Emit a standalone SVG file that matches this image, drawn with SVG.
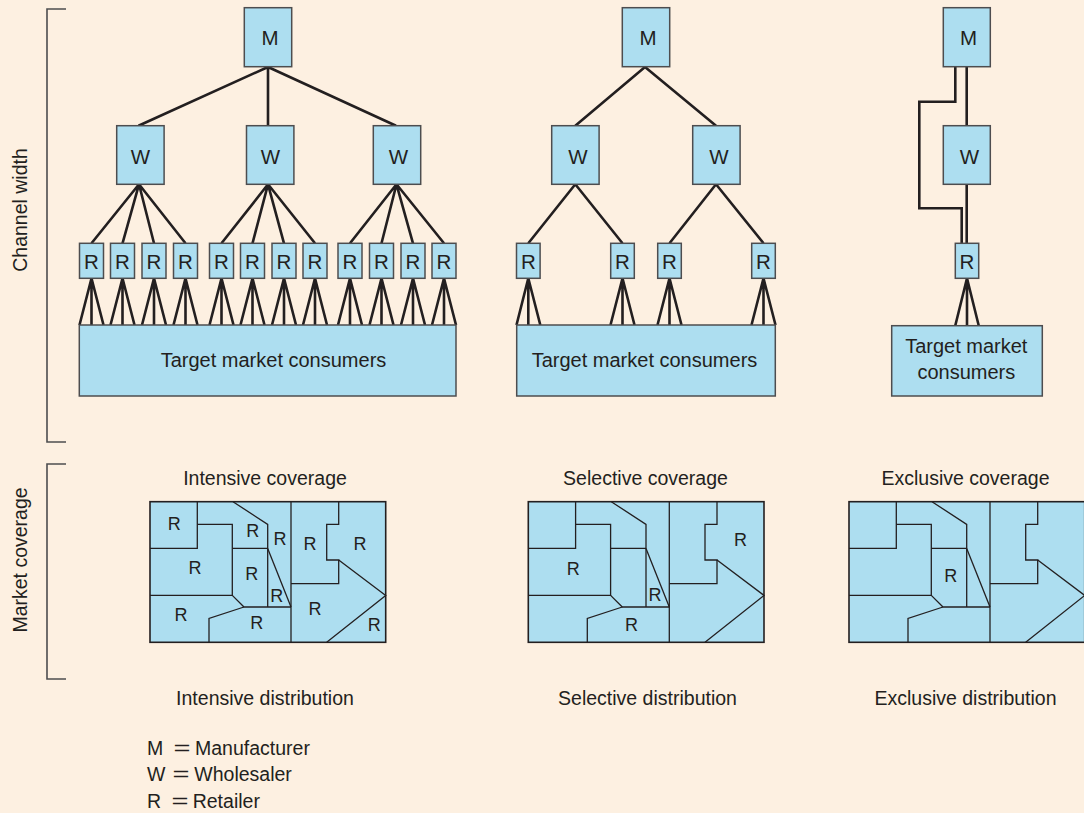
<svg xmlns="http://www.w3.org/2000/svg" xmlns:xlink="http://www.w3.org/1999/xlink" width="1084" height="813" viewBox="0 0 1084 813">
  <style>
    text { font-family: "Liberation Sans", Arial, sans-serif; fill: #231f20; }
    .lbl { font-size: 19.5px; text-anchor: middle; }
    .box { fill: #addef0; stroke: #4d4d4f; stroke-width: 1.5; }
    .bl { font-size: 20.5px; text-anchor: middle; }
    .cl { font-size: 20px; text-anchor: middle; }
    .ln { stroke: #231f20; stroke-width: 2.6; fill: none; stroke-linejoin: miter; }
    .br { stroke: #4d4d4f; stroke-width: 1.6; fill: none; }
    .mapbg { fill: #addef0; stroke: #231f20; stroke-width: 1.6; }
    .ml { stroke: #231f20; stroke-width: 1.3; fill: none; }
    .mr { font-size: 18px; text-anchor: middle; }
  </style>
  <defs>
    <!-- territory outline shared by the three coverage maps -->
    <g id="map">
      <rect class="mapbg" x="0" y="0" width="235.7" height="140.6"/>
      <path class="ml" d="M47.3,0 V46.7 H0"/>
      <path class="ml" d="M47.3,22.7 H82.3 V93.7 H0"/>
      <path class="ml" d="M83,0 L117.7,22.7 V105.3"/>
      <path class="ml" d="M82.3,46.7 H117.7"/>
      <path class="ml" d="M117.7,46.7 L141,105.3"/>
      <path class="ml" d="M82.3,93.7 L94,105.3 H141"/>
      <path class="ml" d="M94,105.3 L59,116.7 V140.6"/>
      <path class="ml" d="M141,0 V140.6"/>
      <path class="ml" d="M188.7,0 V22.7 H176.7 V58.3 H188.7 V82 H141"/>
      <path class="ml" d="M188.7,58.3 L235.7,93.7 L176.7,140.6"/>
    </g>
  </defs>

  <rect x="0" y="0" width="1084" height="813" fill="#fdf0e1"/>

  <!-- side brackets -->
  <g id="brackets">
    <path class="br" d="M66,9 H47 V442 H66"/>
    <path class="br" d="M66,464 H47 V679 H66"/>
    <text class="lbl" transform="translate(26.5,210) rotate(-90)">Channel width</text>
    <text class="lbl" transform="translate(26.5,560) rotate(-90)">Market coverage</text>
  </g>

  <!-- connectors -->
  <g id="connectors">
    <!-- intensive: M to W -->
    <path class="ln" d="M268,67 L138.5,125.7 M268,67 V125.7 M268,67 L396,125.7"/>
    <!-- intensive: W to R -->
    <path class="ln" d="M139,184.3 L91.5,243.3 M139,184.3 L122.5,243.3 M139,184.3 L154,243.3 M139,184.3 L185.5,243.3"/>
    <path class="ln" d="M268,184.3 L221.5,243.3 M268,184.3 L252.5,243.3 M268,184.3 L284,243.3 M268,184.3 L315,243.3"/>
    <path class="ln" d="M396.5,184.3 L350,243.3 M396.5,184.3 L381.5,243.3 M396.5,184.3 L413,243.3 M396.5,184.3 L444,243.3"/>
    <!-- intensive: R to consumers -->
    <path class="ln" d="M79.5,325 L91.5,278.3 L103.5,325 M91.5,278.3 V325"/>
    <path class="ln" d="M110.5,325 L122.5,278.3 L134.5,325 M122.5,278.3 V325"/>
    <path class="ln" d="M142,325 L154,278.3 L166,325 M154,278.3 V325"/>
    <path class="ln" d="M173.5,325 L185.5,278.3 L197.5,325 M185.5,278.3 V325"/>
    <path class="ln" d="M209.5,325 L221.5,278.3 L233.5,325 M221.5,278.3 V325"/>
    <path class="ln" d="M240.5,325 L252.5,278.3 L264.5,325 M252.5,278.3 V325"/>
    <path class="ln" d="M272,325 L284,278.3 L296,325 M284,278.3 V325"/>
    <path class="ln" d="M303,325 L315,278.3 L327,325 M315,278.3 V325"/>
    <path class="ln" d="M338,325 L350,278.3 L362,325 M350,278.3 V325"/>
    <path class="ln" d="M369.5,325 L381.5,278.3 L393.5,325 M381.5,278.3 V325"/>
    <path class="ln" d="M401,325 L413,278.3 L425,325 M413,278.3 V325"/>
    <path class="ln" d="M432,325 L444,278.3 L456,325 M444,278.3 V325"/>

    <!-- selective: M to W to R -->
    <path class="ln" d="M645,67 L575.3,125.7 M645,67 L716,125.7"/>
    <path class="ln" d="M575.3,184.3 L528.3,243.3 M575.3,184.3 L622.5,243.3"/>
    <path class="ln" d="M716,184.3 L669.5,243.3 M716,184.3 L763.5,243.3"/>
    <!-- selective: R to consumers -->
    <path class="ln" d="M516.5,325 L528.3,278.3 L540.3,325 M528.3,278.3 V325"/>
    <path class="ln" d="M610.5,325 L622.5,278.3 L634.5,325 M622.5,278.3 V325"/>
    <path class="ln" d="M657.5,325 L669.5,278.3 L681.5,325 M669.5,278.3 V325"/>
    <path class="ln" d="M751.5,325 L763.5,278.3 L775.5,325 M763.5,278.3 V325"/>

    <!-- exclusive: M to W to R, plus direct M to R -->
    <path class="ln" d="M966.7,67 V125.7 M966.7,184.3 V243.3"/>
    <path class="ln" d="M955.3,67 V101.7 H919.3 V208.3 H961.7 V243.3"/>
    <path class="ln" d="M955.3,325.5 L967,278.3 L978.7,325.5 M967,278.3 V325.5"/>
  </g>

  <!-- intensive distribution -->
  <g id="int-m"><rect class="box" x="244.3" y="7.7" width="47.4" height="59"/><text class="bl" x="270" y="45">M</text></g>
  <g id="int-w1"><rect class="box" x="116.7" y="125.7" width="47.4" height="58.6"/><text class="bl" x="140.5" y="163.5">W</text></g>
  <g id="int-w2"><rect class="box" x="246.5" y="125.7" width="47.4" height="58.6"/><text class="bl" x="270.5" y="163.5">W</text></g>
  <g id="int-w3"><rect class="box" x="373.3" y="125.7" width="47.4" height="58.6"/><text class="bl" x="398.5" y="163.5">W</text></g>
  <g id="int-r1"><rect class="box" x="79.5" y="243.3" width="24" height="35"/><text class="bl" x="91.5" y="268.5">R</text></g>
  <g id="int-r2"><rect class="box" x="110.5" y="243.3" width="24" height="35"/><text class="bl" x="122.5" y="268.5">R</text></g>
  <g id="int-r3"><rect class="box" x="142" y="243.3" width="24" height="35"/><text class="bl" x="154" y="268.5">R</text></g>
  <g id="int-r4"><rect class="box" x="173.5" y="243.3" width="24" height="35"/><text class="bl" x="185.5" y="268.5">R</text></g>
  <g id="int-r5"><rect class="box" x="209.5" y="243.3" width="24" height="35"/><text class="bl" x="221.5" y="268.5">R</text></g>
  <g id="int-r6"><rect class="box" x="240.5" y="243.3" width="24" height="35"/><text class="bl" x="252.5" y="268.5">R</text></g>
  <g id="int-r7"><rect class="box" x="272" y="243.3" width="24" height="35"/><text class="bl" x="284" y="268.5">R</text></g>
  <g id="int-r8"><rect class="box" x="303" y="243.3" width="24" height="35"/><text class="bl" x="315" y="268.5">R</text></g>
  <g id="int-r9"><rect class="box" x="338" y="243.3" width="24" height="35"/><text class="bl" x="350" y="268.5">R</text></g>
  <g id="int-r10"><rect class="box" x="369.5" y="243.3" width="24" height="35"/><text class="bl" x="381.5" y="268.5">R</text></g>
  <g id="int-r11"><rect class="box" x="401" y="243.3" width="24" height="35"/><text class="bl" x="413" y="268.5">R</text></g>
  <g id="int-r12"><rect class="box" x="432" y="243.3" width="24" height="35"/><text class="bl" x="444" y="268.5">R</text></g>
  <g id="int-consumers"><rect class="box" x="79.3" y="325" width="376.7" height="71"/><text class="cl" x="273.5" y="366.5">Target market consumers</text></g>

  <!-- selective distribution -->
  <g id="sel-m"><rect class="box" x="622.3" y="7.7" width="47.4" height="59"/><text class="bl" x="648" y="45">M</text></g>
  <g id="sel-w1"><rect class="box" x="551.7" y="125.7" width="47.4" height="58.6"/><text class="bl" x="578" y="163.5">W</text></g>
  <g id="sel-w2"><rect class="box" x="692.7" y="125.7" width="47.4" height="58.6"/><text class="bl" x="719" y="163.5">W</text></g>
  <g id="sel-r1"><rect class="box" x="516.5" y="243.3" width="23.6" height="35"/><text class="bl" x="528.3" y="268.5">R</text></g>
  <g id="sel-r2"><rect class="box" x="610.7" y="243.3" width="23.6" height="35"/><text class="bl" x="622.5" y="268.5">R</text></g>
  <g id="sel-r3"><rect class="box" x="657.7" y="243.3" width="23.6" height="35"/><text class="bl" x="669.5" y="268.5">R</text></g>
  <g id="sel-r4"><rect class="box" x="751.7" y="243.3" width="23.6" height="35"/><text class="bl" x="763.5" y="268.5">R</text></g>
  <g id="sel-consumers"><rect class="box" x="516.7" y="325" width="258.6" height="71"/><text class="cl" x="644.5" y="366.5">Target market consumers</text></g>

  <!-- exclusive distribution -->
  <g id="exc-m"><rect class="box" x="943.3" y="7.7" width="47" height="59"/><text class="bl" x="968.5" y="45">M</text></g>
  <g id="exc-w"><rect class="box" x="943.3" y="125.7" width="47" height="58.6"/><text class="bl" x="969.5" y="163.5">W</text></g>
  <g id="exc-r"><rect class="box" x="955.3" y="243.3" width="23.4" height="35"/><text class="bl" x="967" y="268.5">R</text></g>
  <g id="exc-consumers"><rect class="box" x="891.7" y="325.7" width="150.6" height="70.3"/><text class="cl" x="966.3" y="352.7">Target market</text><text class="cl" x="966.3" y="379.3">consumers</text></g>

  <!-- coverage maps -->
  <g id="map-intensive" transform="translate(150,501.7)">
    <use xlink:href="#map" href="#map"/>
    <text class="mr" x="24.3" y="28">R</text>
    <text class="mr" x="45" y="72.3">R</text>
    <text class="mr" x="31" y="119">R</text>
    <text class="mr" x="102.7" y="35.3">R</text>
    <text class="mr" x="130" y="43">R</text>
    <text class="mr" x="101.7" y="78.6">R</text>
    <text class="mr" x="126.7" y="100.3">R</text>
    <text class="mr" x="106.7" y="127">R</text>
    <text class="mr" x="160" y="48.6">R</text>
    <text class="mr" x="210" y="48.6">R</text>
    <text class="mr" x="165" y="113">R</text>
    <text class="mr" x="224.3" y="129.6">R</text>
  </g>
  <g id="map-selective" transform="translate(528.3,501.7)">
    <use xlink:href="#map" href="#map"/>
    <text class="mr" x="45" y="73">R</text>
    <text class="mr" x="212.3" y="44.6">R</text>
    <text class="mr" x="126.7" y="99.6">R</text>
    <text class="mr" x="103.3" y="129.6">R</text>
  </g>
  <g id="map-exclusive" transform="translate(849,501.7)">
    <use xlink:href="#map" href="#map"/>
    <text class="mr" x="101.7" y="80.3">R</text>
  </g>

  <!-- headings -->
  <g id="headings">
    <text class="lbl" x="265" y="485">Intensive coverage</text>
    <text class="lbl" x="645.5" y="485">Selective coverage</text>
    <text class="lbl" x="965.5" y="485">Exclusive coverage</text>
    <text class="lbl" x="265" y="705">Intensive distribution</text>
    <text class="lbl" x="647.5" y="705">Selective distribution</text>
    <text class="lbl" x="965.5" y="705">Exclusive distribution</text>
  </g>

  <!-- key -->
  <g id="legend" font-size="19.5">
    <text x="147" y="755">M</text><text x="173.5" y="755" textLength="17" lengthAdjust="spacingAndGlyphs">=</text><text x="195" y="755">Manufacturer</text>
    <text x="147" y="781">W</text><text x="172.5" y="781" textLength="17" lengthAdjust="spacingAndGlyphs">=</text><text x="194.3" y="781">Wholesaler</text>
    <text x="147" y="807.5">R</text><text x="171.5" y="807.5" textLength="17" lengthAdjust="spacingAndGlyphs">=</text><text x="192.7" y="807.5">Retailer</text>
  </g>
</svg>
